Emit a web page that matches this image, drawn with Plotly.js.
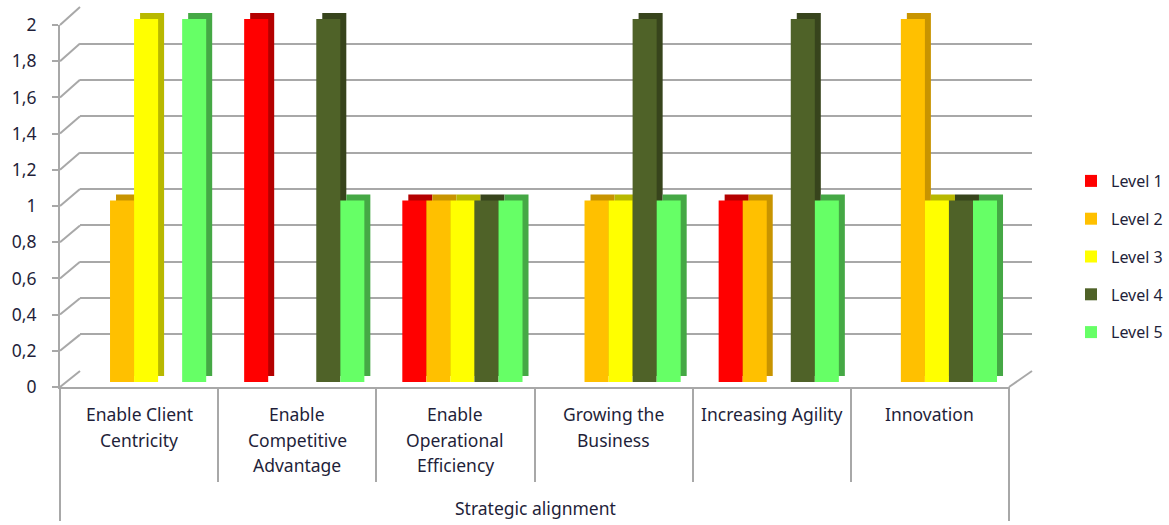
<!DOCTYPE html>
<html>
<head>
<meta charset="utf-8">
<script src="https://cdn.plot.ly/plotly-3.0.1.min.js"></script>
<style>
  html, body { margin: 0; padding: 0; background: #ffffff; }
  #chart { width: 1169px; height: 525px; }
</style>
</head>
<body>
<div id="chart"></div>
<script>
// Strategic alignment by maturity level
const categories = [
  "Enable Client<br>Centricity",
  "Enable<br>Competitive<br>Advantage",
  "Enable<br>Operational<br>Efficiency",
  "Growing the<br>Business",
  "Increasing Agility",
  "Innovation"
];
const levelNames = ["Level 1", "Level 2", "Level 3", "Level 4", "Level 5"];
const level1 = [null, 2, 1, null, 1, null];
const level2 = [1, null, 1, 1, 1, 2];
const level3 = [2, null, 1, 1, null, 1];
const level4 = [null, 2, 1, 2, 2, 1];
const level5 = [2, 1, 1, 1, 1, 1];
const groupTitle = "Strategic alignment";
const yTicks = [0, 0.2, 0.4, 0.6, 0.8, 1, 1.2, 1.4, 1.6, 1.8, 2];

const series = [level1, level2, level3, level4, level5];
const faceColors = ["#ff0000", "#ffc000", "#ffff00", "#4f6228", "#66ff66"];
const sideColors = ["#b40000", "#c89400", "#b8b800", "#37441c", "#45a845"];

const W = 1169, H = 525;
const px = v => v / W;
const py = v => 1 - v / H;

const FONT = "Noto Sans, Open Sans, sans-serif";
const TEXT = "#1f1f3a";
const GRID = "#a8a8a8";
const LW = 2;

// pixel geometry of the pseudo-3D box
const front = { left: 60, right: 1009, top: 25, bottom: 387 };
const back = { left: 80, right: 1032, top: 7, bottom: 371 };
const bars = { left: 67, right: 1016, top: 19, bottom: 382 };
const depth = { dx: 6, dy: 6 };

const traces = [];

// back wall (gridlines only)
traces.push({ type: "scatter", x: [0.5], y: [-5], xaxis: "x", yaxis: "y",
  mode: "markers", showlegend: false, hoverinfo: "skip" });

// side / top faces of the columns
series.forEach((vals, i) => {
  traces.push({
    type: "bar", x: categories, y: vals, xaxis: "x2", yaxis: "y2",
    marker: { color: sideColors[i], line: { width: 0 } },
    showlegend: false, hoverinfo: "skip"
  });
});

// front faces of the columns
series.forEach((vals, i) => {
  traces.push({
    type: "bar", x: categories, y: vals, xaxis: "x3", yaxis: "y3",
    name: levelNames[i], legendgroup: levelNames[i],
    marker: { color: faceColors[i], line: { width: 0 } }
  });
});

// front axes
traces.push({ type: "scatter", x: categories, y: categories.map(() => -5),
  xaxis: "x4", yaxis: "y4", mode: "markers", showlegend: false, hoverinfo: "skip" });

const hidden = { showgrid: false, zeroline: false, showline: false,
  showticklabels: false, ticks: "" };

const shapes = [];
// tick connectors from the front edge to the back wall
yTicks.forEach(v => {
  const yf = front.bottom - v * (front.bottom - front.top) / 2;
  const yb = back.bottom - v * (back.bottom - back.top) / 2;
  shapes.push({ type: "line", xref: "paper", yref: "paper",
    x0: px(front.left), y0: py(yf), x1: px(back.left), y1: py(yb),
    line: { color: GRID, width: LW } });
});
// floor edge on the right
shapes.push({ type: "line", xref: "paper", yref: "paper",
  x0: px(front.right), y0: py(front.bottom), x1: px(back.right), y1: py(back.bottom),
  line: { color: GRID, width: LW } });
// outer frame of the category table
[front.left, front.right].forEach(xp => {
  shapes.push({ type: "line", xref: "paper", yref: "paper",
    x0: px(xp), y0: py(front.bottom), x1: px(xp), y1: py(521),
    line: { color: GRID, width: LW } });
});

const annotations = [];
const lineY = [414, 440, 465];
categories.forEach(c => {
  c.split("<br>").forEach((part, k) => {
    annotations.push({ xref: "x4", yref: "paper", x: c, y: py(lineY[k]),
      text: part, showarrow: false, xanchor: "center", yanchor: "middle",
      font: { family: FONT, size: 17.5, color: TEXT } });
  });
});
annotations.push({ xref: "paper", yref: "paper", x: px(535), y: py(508),
  text: groupTitle, showarrow: false, xanchor: "center", yanchor: "middle",
  font: { family: FONT, size: 17.5, color: TEXT } });

const layout = {
  width: W, height: H,
  margin: { l: 0, r: 0, t: 0, b: 0, autoexpand: false },
  paper_bgcolor: "#ffffff",
  plot_bgcolor: "rgba(0,0,0,0)",
  separators: ", ",
  barmode: "group",
  bargap: 0.24,
  bargroupgap: 0,
  showlegend: true,
  legend: {
    x: px(1071), y: py(164), xanchor: "left", yanchor: "top",
    font: { family: FONT, size: 16, color: TEXT },
    tracegroupgap: 14, bgcolor: "rgba(0,0,0,0)", traceorder: "grouped"
  },
  xaxis: Object.assign({}, hidden, { domain: [px(back.left), px(back.right)],
    range: [0, 1], anchor: "y", fixedrange: true }),
  yaxis: Object.assign({}, hidden, { domain: [py(back.bottom), py(back.top)],
    range: [-0.001, 2.001], anchor: "x", showgrid: true, dtick: 0.2, tick0: 0,
    gridcolor: GRID, gridwidth: LW, fixedrange: true }),
  xaxis2: Object.assign({}, hidden, { type: "category",
    domain: [px(bars.left + depth.dx), px(bars.right + depth.dx)],
    range: [-0.5, 5.5], anchor: "y2" }),
  yaxis2: Object.assign({}, hidden, {
    domain: [py(bars.bottom - depth.dy), py(bars.top - depth.dy)],
    range: [0, 2], anchor: "x2" }),
  xaxis3: Object.assign({}, hidden, { type: "category",
    domain: [px(bars.left), px(bars.right)], range: [-0.5, 5.5], anchor: "y3" }),
  yaxis3: Object.assign({}, hidden, { domain: [py(bars.bottom), py(bars.top)],
    range: [0, 2], anchor: "x3" }),
  xaxis4: { type: "category", domain: [px(front.left), px(front.right)],
    range: [-0.5, 5.5], anchor: "y4", showgrid: false, zeroline: false,
    showline: true, linecolor: GRID, linewidth: LW,
    ticks: "outside", tickson: "boundaries", ticklen: 93, tickwidth: LW,
    tickcolor: GRID, showticklabels: false },
  yaxis4: { domain: [py(front.bottom), py(front.top)], range: [0, 2],
    anchor: "x4", showgrid: false, zeroline: false, showline: true,
    linecolor: GRID, linewidth: LW, ticks: "outside", ticklen: 6,
    tickwidth: LW, tickcolor: GRID, tickvals: yTicks, ticklabelstandoff: 12,
    tickfont: { family: FONT, size: 17.5, color: TEXT } },
  shapes: shapes,
  annotations: annotations
};

Plotly.newPlot("chart", traces, layout, { displayModeBar: false, staticPlot: true });
</script>
</body>
</html>
